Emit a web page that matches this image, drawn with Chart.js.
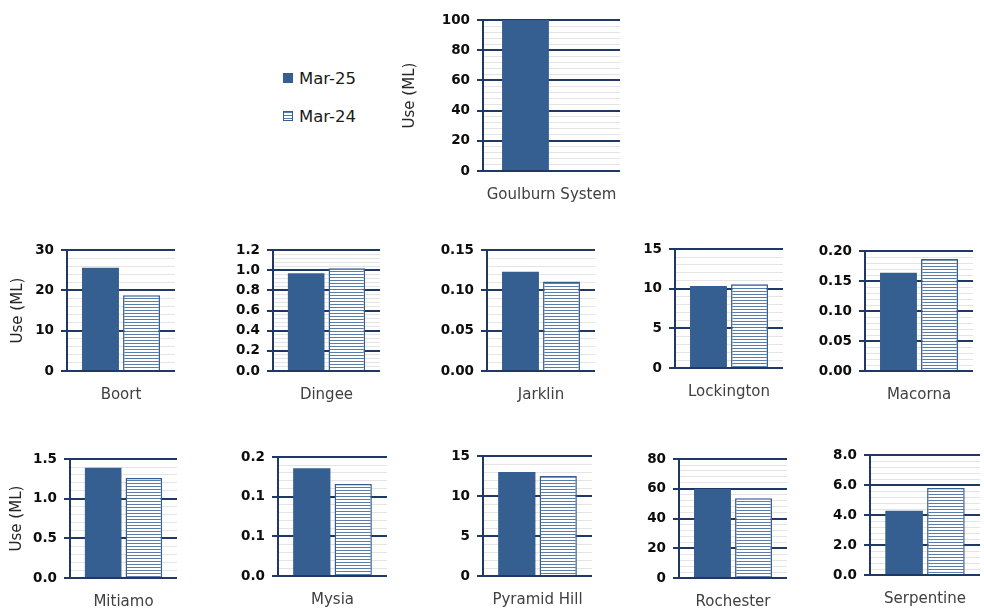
<!DOCTYPE html>
<html>
<head>
<meta charset="utf-8">
<script src="https://cdn.jsdelivr.net/npm/chart.js@4.4.1/dist/chart.umd.min.js"></script>
<style>
    body { margin: 0; background: #fff; width: 984px; height: 611px; position: relative; overflow: hidden; font-family: "DejaVu Sans", sans-serif; }
    canvas { position: absolute; }
    .legend-item { position: absolute; left: 283px; height: 20px; display: flex; align-items: center; font-size: 16.5px; color: #1a1a1a; }
    .swatch { width: 10px; height: 10px; margin-right: 6px; box-sizing: border-box; }
    .swatch.solid { background: #365F91; }
    .swatch.striped { border: 1px solid #365F91; background: repeating-linear-gradient(to bottom, #5a7daa 0 1px, #fff 1px 3px); }
</style>
</head>
<body>
<div class="legend-item" style="top:68px"><span class="swatch solid"></span>Mar-25</div>
<div class="legend-item" style="top:106px"><span class="swatch striped"></span>Mar-24</div>

<script>
// Data
const sites = ['Goulburn System', 'Boort', 'Dingee', 'Jarklin', 'Lockington', 'Macorna',
               'Mitiamo', 'Mysia', 'Pyramid Hill', 'Rochester', 'Serpentine'];
const seriesNames = ['Mar-25', 'Mar-24'];
const mar25 = [100, 25.6, 0.97, 0.123, 10.35, 0.164, 1.39, 0.136, 13.0, 59.8, 4.28];
const mar24 = [null, 18.8, 1.02, 0.111, 10.55, 0.187, 1.26, 0.116, 12.5, 53.7, 5.8];
const yMax = [100, 30, 1.2, 0.15, 15, 0.2, 1.5, 0.15, 15, 80, 8];
const yTickLabels = [
    ['0', '20', '40', '60', '80', '100'],
    ['0', '10', '20', '30'],
    ['0.0', '0.2', '0.4', '0.6', '0.8', '1.0', '1.2'],
    ['0.00', '0.05', '0.10', '0.15'],
    ['0', '5', '10', '15'],
    ['0.00', '0.05', '0.10', '0.15', '0.20'],
    ['0.0', '0.5', '1.0', '1.5'],
    ['0.0', '0.1', '0.1', '0.2'],
    ['0', '5', '10', '15'],
    ['0', '20', '40', '60', '80'],
    ['0.0', '2.0', '4.0', '6.0', '8.0']
];
const yTitle = 'Use (ML)';

// Panel layout: x/y = top-left of plot area, w/h = plot size, left = y-axis box width
const panels = [
    { x: 483, y: 17,  w: 137, h: 154, left: 82, title: true },
    { x: 67,  y: 247, w: 108, h: 124, left: 58, title: true },
    { x: 273, y: 247, w: 107, h: 124, left: 60 },
    { x: 487, y: 247, w: 108, h: 124, left: 60 },
    { x: 675, y: 246, w: 108, h: 122, left: 60 },
    { x: 865, y: 248, w: 108, h: 123, left: 60 },
    { x: 70,  y: 456, w: 107, h: 122, left: 62, title: true },
    { x: 278, y: 454, w: 109, h: 122, left: 60 },
    { x: 483, y: 453, w: 109, h: 123, left: 60 },
    { x: 679, y: 456, w: 108, h: 122, left: 60 },
    { x: 870, y: 452, w: 110, h: 123, left: 60 }
];

const NAVY = '#203864';
const BAR_BLUE = '#365F91';
const MINOR_GRID = '#e4e4e4';
const TOP_PAD = 12, RIGHT_PAD = 4, BOTTOM_H = 40;

function stripePattern(ctx) {
    const tile = document.createElement('canvas');
    tile.width = 4;
    tile.height = 3;
    const g = tile.getContext('2d');
    g.fillStyle = '#ffffff';
    g.fillRect(0, 0, 4, 3);
    g.fillStyle = '#5a7daa';
    g.fillRect(0, 0, 4, 1);
    return ctx.createPattern(tile, 'repeat');
}

panels.forEach((p, i) => {
    const canvas = document.createElement('canvas');
    canvas.width = p.left + p.w + RIGHT_PAD;
    canvas.height = TOP_PAD + p.h + BOTTOM_H;
    canvas.style.left = (p.x - p.left) + 'px';
    canvas.style.top = (p.y - TOP_PAD) + 'px';
    document.body.appendChild(canvas);
    const ctx = canvas.getContext('2d');

    const labels = yTickLabels[i];
    const minorStep = +(yMax[i] / (labels.length - 1) / 5).toPrecision(6);

    new Chart(ctx, {
        type: 'bar',
        data: {
            labels: [sites[i]],
            datasets: [
                {
                    label: seriesNames[0],
                    data: [mar25[i]],
                    backgroundColor: BAR_BLUE,
                    borderWidth: 0
                },
                {
                    label: seriesNames[1],
                    data: [mar24[i]],
                    backgroundColor: stripePattern(ctx),
                    borderColor: BAR_BLUE,
                    borderWidth: 1.5
                }
            ]
        },
        options: {
            responsive: false,
            animation: false,
            devicePixelRatio: 1,
            categoryPercentage: 0.76,
            barPercentage: 0.9,
            layout: { padding: { top: TOP_PAD, right: RIGHT_PAD, left: 0, bottom: 0 } },
            plugins: {
                legend: { display: false },
                tooltip: { enabled: false }
            },
            scales: {
                x: {
                    grid: { display: false, drawTicks: false },
                    border: { display: false },
                    ticks: {
                        padding: 15,
                        color: '#404040',
                        font: { family: 'DejaVu Sans', size: 15 }
                    },
                    afterFit: (scale) => {
                        scale.height = BOTTOM_H;
                        // the long site names must not shrink the plot
                        scale.paddingLeft = 0;
                        scale.paddingRight = 0;
                    }
                },
                y: {
                    min: 0,
                    max: yMax[i],
                    grid: {
                        drawTicks: true,
                        tickLength: 6,
                        color: (c) => c.index % 5 === 0 ? NAVY : MINOR_GRID,
                        lineWidth: (c) => c.index % 5 === 0 ? 2 : 1,
                        tickColor: (c) => c.index % 5 === 0 ? NAVY : 'rgba(0,0,0,0)',
                        tickWidth: 2
                    },
                    border: { display: true, color: NAVY, width: 2 },
                    ticks: {
                        stepSize: minorStep,
                        autoSkip: false,
                        padding: 7,
                        color: '#0d0d0d',
                        font: { family: 'DejaVu Sans', size: 13.5, weight: 'bold' },
                        callback: (value, index) => index % 5 === 0 ? labels[index / 5] : ''
                    },
                    title: {
                        display: !!p.title,
                        text: yTitle,
                        color: '#262626',
                        padding: 0,
                        font: { family: 'DejaVu Sans', size: 15 }
                    },
                    afterFit: (scale) => { scale.width = p.left; }
                }
            }
        }
    });
});
</script>
</body>
</html>
